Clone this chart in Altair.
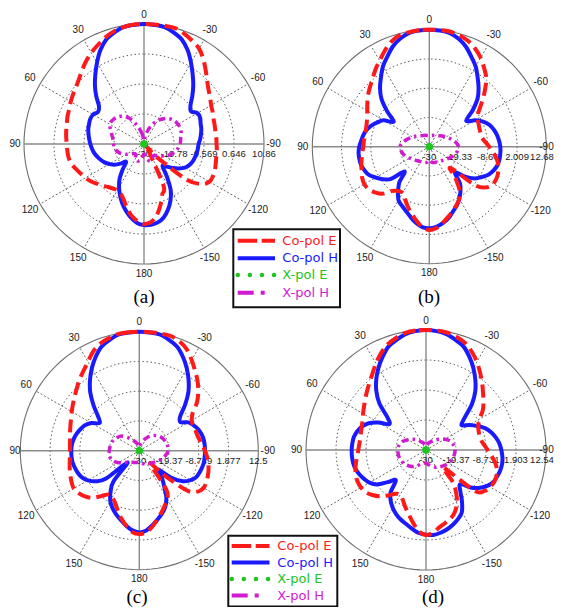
import altair as alt
import pandas as pd

SERIES = ["Co-pol E", "Co-pol H", "X-pol E", "X-pol H"]
COLORS = ["#ff1a1a", "#1a1aff", "#22c422", "#d21ad2"]

# angles in degrees, counter-clockwise from the top (185 = -175, ..., 355 = -5)
ANG5 = list(range(0, 360, 5))
ANG10 = list(range(0, 360, 10))
ANG30 = list(range(0, 360, 30))
ANGLE_TEXT = ["0", "30", "60", "90", "120", "150", "180", "-150", "-120", "-90", "-60", "-30"]

# ---------------- panel (a)
A_TICKS = [-30, -19.78, -9.569, 0.646, 10.86]
A_TICK_TEXT = ["-30", "-19.78", "-9.569", "0.646", "10.86"]
A_COPOL_E = [10.86, 10.86, 10.4, 9.7, 8.6, 7.2, 5.9, 4.4, 2.8, 1.3, 0.2, -0.5, -1.2, -1.9, -2.3, -2.8,
             -3.1, -3.4, -3.7, -3.8, -3.9, -4.3, -5.3, -6.2, -7.0, -7.9, -9.0, -10.0, -10.9, -11.5,
             -11.8, -11.3, -9.8, -7.5, -5.3, -3.7, -2.8,
             -3.3, -5.3, -8.4, -11.8, -14.1, -25.5, -28.3, -30.0, -23.2, -11.3, -6.2, -4.3, -4.1,
             -4.3, -4.7, -5.0, -5.1, -5.3, -5.3, -5.3, -5.1, -4.8, -4.2, -3.6, -2.5, -1.3, 0.4, 2.7,
             5.2, 7.5, 8.8, 10.0, 10.86, 10.86, 10.86]
A_COPOL_H = [10.86, 10.7, 10.4, 9.3, 7.8, 5.2, 2.0, -1.1, -4.0, -7.0, -10.0, -10.9, -10.0, -9.8, -10.1,
             -10.36, -10.82, -11.27, -11.73, -12.18, -12.75, -13.5, -14.3, -15.2, -16.4, -17.7, -19.6,
             -21.4, -18.7, -15.5, -13.0, -10.7, -8.4, -6.4, -4.5, -3.0, -2.4,
             -2.4, -2.9, -4.1, -6.2, -8.7, -11.8, -16.4, -20.2, -19.1, -17.3, -15.5, -13.9, -13.0,
             -12.4, -12.1, -11.8, -11.6, -11.4, -10.8, -10.3, -9.8, -9.5, -8.9, -9.0, -10.5, -9.3,
             -6.7, -3.9, -1.1, 2.0, 5.2, 7.8, 9.3, 10.4, 10.7]
A_XPOL_E = [-30.0, -30.0, -30.0, -30.0, -30.0, -30.0, -30.0, -30.0, -30.0, -30.0, -30.0, -30.0]
A_XPOL_H = [-28.9, -26.6, -23.4, -19.8, -17.7, -16.7, -16.6, -18.1, -19.2, -19.6, -20.0, -21.1,
            -23.0, -24.9, -25.5, -24.3, -23.8, -24.9, -26.6, -24.9, -23.8, -24.3, -24.9, -23.8,
            -21.8, -20.0, -18.65, -17.7, -17.3, -16.6, -16.6, -17.2, -18.65, -20.9, -23.8, -26.8]

# ---------------- panel (b)
B_TICKS = [-30, -19.33, -8.66, 2.009, 12.68]
B_TICK_TEXT = ["-30", "-19.33", "-8.66", "2.009", "12.68"]
B_COPOL_E = [12.68, 12.68, 12.44, 12.07, 10.74, 8.55, 6.24, 4.29, 2.22, 0.64, -0.82, -2.40, -3.86,
             -4.95, -5.68, -6.04, -6.17, -6.04, -5.92, -5.44, -4.95, -4.34, -3.73, -3.00, -2.64,
             -3.00, -4.10, -5.68, -8.96, -10.30, -10.54, -8.96, -6.90, -4.83, -2.64, -0.57, 0.40,
             -0.21, -1.79, -3.49, -5.07, -6.53, -8.11, -10.79, -15.41, -19.06, -8.11, -4.22, -3.00,
             -2.88, -3.25, -3.98, -5.07, -6.65, -8.11, -9.57, -10.54, -10.67, -10.54, -10.18, -9.57,
             -8.11, -5.07, -1.42, 2.35, 4.90, 7.45, 9.52, 11.10, 12.07, 12.68, 12.68]
B_COPOL_H = [12.68, 12.56, 12.19, 10.86, 8.91, 6.24, 3.80, 0.76, -2.03, -5.32, -9.94, -14.19, -10.79,
             -9.08, -7.50, -6.29, -5.56, -5.07, -4.46, -4.10, -4.10, -4.22, -4.83, -5.68, -7.50,
             -9.33, -11.76, -17.23, -12.98, -10.18, -7.50, -6.29, -5.07, -3.49, -1.79, -0.57, -0.21,
             -0.69, -1.67, -3.00, -4.83, -6.29, -8.11, -10.18, -12.61, -16.87, -12.98, -9.81, -7.87,
             -6.04, -4.95, -4.22, -3.98, -3.98, -4.10, -4.46, -4.95, -5.68, -6.65, -8.35, -10.79,
             -13.58, -9.33, -5.07, -2.03, 0.76, 3.80, 6.24, 8.91, 10.86, 12.19, 12.56]
B_XPOL_E = [-30.0, -30.0, -30.0, -30.0, -30.0, -30.0, -30.0, -30.0, -30.0, -30.0, -30.0, -30.0]
B_XPOL_H = [-26.0, -25.9, -25.6, -25.3, -24.8, -23.9, -23.0, -21.7, -20.3, -19.3, -19.7, -20.5,
            -21.7, -22.7, -23.3, -23.7, -23.9, -24.2, -25.1, -24.2, -23.9, -23.7, -23.3, -22.7,
            -21.7, -20.5, -19.7, -19.3, -20.3, -21.7, -23.0, -23.9, -24.8, -25.3, -25.6, -25.9]

# ---------------- panel (c)
C_TICKS = [-30, -19.37, -8.749, 1.877, 12.5]
C_TICK_TEXT = ["-30", "-19.37", "-8.749", "1.877", "12.5"]
C_COPOL_E = [12.5, 12.5, 12.38, 11.67, 10.71, 9.05, 6.67, 4.76, 3.21, 1.55, 0.12, -1.07, -2.14,
             -3.10, -3.81, -4.40, -4.88, -5.12, -5.24, -5.12, -4.76, -4.29, -3.81, -3.33, -2.98,
             -3.57, -4.64, -6.19, -8.81, -10.95, -10.71, -9.52, -7.38, -5.00, -2.86, -0.83, -0.24,
             -0.83, -2.62, -4.76, -6.67, -8.45, -10.0, -13.33, -24.05, -18.10, -7.98, -4.52, -3.45,
             -3.57, -3.93, -4.40, -5.00, -5.71, -6.55, -7.38, -8.10, -8.57, -8.69, -8.81, -8.33,
             -6.79, -3.10, -0.24, 2.38, 4.76, 7.38, 10.0, 11.67, 12.5, 12.5, 12.5]
C_COPOL_H = [12.5, 12.38, 12.14, 10.95, 9.52, 6.91, 3.93, 0.71, -2.74, -6.79, -10.71, -12.74, -10.24,
             -8.57, -7.62, -6.79, -6.19, -5.83, -5.71, -5.71, -5.83, -6.19, -6.67, -7.38, -8.81,
             -10.95, -14.52, -24.05, -15.71, -12.14, -9.29, -7.38, -5.83, -4.40, -2.86, -1.43, -0.83,
             -1.43, -2.98, -4.64, -6.19, -7.98, -10.71, -14.52, -17.50, -20.48, -14.76, -10.95,
             -8.93, -7.62, -7.14, -6.79, -6.55, -6.55, -6.55, -6.55, -6.67, -7.02, -7.62, -8.57,
             -9.76, -12.14, -10.95, -6.90, -2.74, 0.71, 3.93, 6.91, 9.52, 10.95, 12.14, 12.38]
C_XPOL_E = [-30.0, -30.0, -30.0, -30.0, -30.0, -30.0, -30.0, -30.0, -30.0, -30.0, -30.0, -30.0]
C_XPOL_H = [-28.2, -27.86, -27.02, -25.83, -24.05, -21.9, -20.71, -19.88, -19.52, -19.29, -19.17,
            -19.76, -21.43, -23.45, -24.64, -25.24, -25.48, -25.71, -25.83, -25.48, -25.0, -24.64,
            -24.05, -23.45, -22.5, -21.43, -20.48, -19.64, -19.76, -20.12, -20.71, -21.67, -23.10,
            -24.64, -26.19, -27.62]

# ---------------- panel (d)
D_TICKS = [-30, -19.37, -8.731, 1.903, 12.54]
D_TICK_TEXT = ["-30", "-19.37", "-8.731", "1.903", "12.54"]
D_COPOL_E = [12.54, 12.54, 12.19, 11.12, 9.82, 7.81, 5.45, 3.09, 1.20, -0.46, -1.88, -3.18, -4.24,
             -5.18, -5.77, -6.13, -6.37, -6.25, -6.01, -5.54, -4.83, -4.12, -3.53, -3.29, -3.41,
             -3.88, -5.18, -6.84, -8.97, -11.09, -11.68, -10.50, -8.49, -6.37, -3.77, -1.05, 0.13,
             -0.69, -2.23, -3.29, -4.24, -5.77, -8.14, -11.33, -15.23, -21.14, -7.55, -4.71, -3.77,
             -3.29, -3.41, -4.0, -5.18, -6.72, -8.14, -9.32, -10.15, -10.38, -10.15, -9.56, -8.14,
             -5.42, -3.41, -1.40, 0.96, 3.44, 6.04, 8.41, 10.41, 11.6, 12.30, 12.54]
D_COPOL_H = [12.54, 12.30, 11.71, 10.41, 9.0, 6.40, 3.68, 0.72, -2.58, -6.60, -12.27, -14.05, -10.50,
             -7.55, -5.77, -4.71, -4.00, -3.77, -3.65, -3.65, -3.77, -4.12, -4.83, -5.77, -6.84,
             -8.73, -12.27, -14.87, -10.50, -8.14, -6.37, -4.95, -3.77, -2.82, -1.64, -0.46, 0.02,
             0.25, -0.22, -0.93, -1.88, -3.06, -4.59, -7.78, -11.09, -12.87, -9.32, -6.60, -4.71,
             -3.53, -3.06, -2.70, -2.58, -2.82, -3.29, -3.88, -4.83, -6.01, -7.55, -9.91, -12.27,
             -14.64, -12.04, -6.96, -2.82, 0.49, 3.56, 6.40, 9.0, 10.41, 11.71, 12.30]
D_XPOL_E = [-30.0, -30.0, -30.0, -30.0, -30.0, -30.0, -30.0, -30.0, -30.0, -30.0, -30.0, -30.0]
D_XPOL_H = [-28.23, -27.87, -27.40, -26.69, -25.51, -24.09, -22.67, -21.14, -20.31, -20.07, -20.07,
            -20.31, -20.78, -21.49, -22.32, -23.50, -24.68, -25.27, -25.27, -24.68, -23.86, -22.91,
            -22.20, -21.49, -20.78, -20.19, -19.84, -19.72, -20.07, -20.78, -22.32, -24.09, -25.51,
            -26.69, -27.40, -27.87]

W, H = 547, 599  # drawing area

# layout of the four panels inside the drawing area (centre, radius in px)
PANELS = [
    dict(cap="(a)", ticks=A_TICKS, tt=A_TICK_TEXT, e=A_COPOL_E, h=A_COPOL_H, xe=A_XPOL_E, xh=A_XPOL_H,
         cx=136, cy=136, R=120, capx=136, capy=294.5),
    dict(cap="(b)", ticks=B_TICKS, tt=B_TICK_TEXT, e=B_COPOL_E, h=B_COPOL_H, xe=B_XPOL_E, xh=B_XPOL_H,
         cx=421.3, cy=138.7, R=117, capx=421, capy=294.5),
    dict(cap="(c)", ticks=C_TICKS, tt=C_TICK_TEXT, e=C_COPOL_E, h=C_COPOL_H, xe=C_XPOL_E, xh=C_XPOL_H,
         cx=131.3, cy=442.7, R=119, capx=129, capy=594.5),
    dict(cap="(d)", ticks=D_TICKS, tt=D_TICK_TEXT, e=D_COPOL_E, h=D_COPOL_H, xe=D_XPOL_E, xh=D_XPOL_H,
         cx=418, cy=442, R=120, capx=425, capy=594.5),
]

LEGENDS = [
    dict(box=(225.3, 332, 221.3, 299.3), rows=[232.7, 250.3, 267.0, 284.7], sx=(229.7, 267), tx=274.3),
    dict(box=(220.3, 329.3, 527.7, 598.5), rows=[538.0, 554.5, 571.0, 587.5], sx=(223.7, 261.5), tx=269.3),
]

LABEL_FONT = "Liberation Sans"


def polar(chart, lo):
    return chart.transform_calculate(
        rr=f"max(datum.db - ({lo}), 0)"
    ).transform_calculate(
        px="-datum.rr * sin(datum.ang * PI / 180)",
        py="datum.rr * cos(datum.ang * PI / 180)",
    )


def panel_layers(p):
    lo, hi = p["ticks"][0], p["ticks"][-1]
    S = hi - lo
    cx, cy, R = p["cx"], p["cy"], p["R"]
    k = S / R  # data units per pixel
    xs = alt.Scale(domain=[-S, S], range=[cx - R, cx + R], nice=False, zero=False)
    ys = alt.Scale(domain=[-S, S], range=[cy + R, cy - R], nice=False, zero=False)

    def X(f):
        return alt.X(f, type="quantitative", scale=xs, axis=None)

    def Y(f):
        return alt.Y(f, type="quantitative", scale=ys, axis=None)

    layers = []
    # grid rings
    inner = pd.DataFrame([(lv, a) for lv in p["ticks"][1:-1] for a in range(0, 360, 3)],
                         columns=["db", "ang"])
    outer = pd.DataFrame([(hi, a) for a in range(0, 360, 3)], columns=["db", "ang"])
    layers.append(polar(alt.Chart(inner), lo).mark_line(
        interpolate="linear-closed", stroke="#333333", strokeWidth=0.8, strokeDash=[1.5, 2.5]
    ).encode(x=X("px"), y=Y("py"), detail="db:N", order="ang:Q"))
    layers.append(polar(alt.Chart(outer), lo).mark_line(
        interpolate="linear-closed", stroke="#6e6e6e", strokeWidth=1.1
    ).encode(x=X("px"), y=Y("py"), order="ang:Q"))
    # spokes
    spokes = pd.DataFrame({"ang": [30, 60, 120, 150, 210, 240, 300, 330]})
    layers.append(alt.Chart(spokes).transform_calculate(
        z="0", ex=f"-{S} * sin(datum.ang * PI / 180)", ey=f"{S} * cos(datum.ang * PI / 180)"
    ).mark_rule(stroke="#444444", strokeWidth=0.8, strokeDash=[2, 2]).encode(
        x=X("z"), y=Y("z"), x2="ex:Q", y2="ey:Q"))
    axes = pd.DataFrame({"ang": [0, 90]})
    layers.append(alt.Chart(axes).transform_calculate(
        sx=f"{S} * sin(datum.ang * PI / 180)", sy=f"-{S} * cos(datum.ang * PI / 180)",
        ex=f"-{S} * sin(datum.ang * PI / 180)", ey=f"{S} * cos(datum.ang * PI / 180)"
    ).mark_rule(stroke="#8a8a8a", strokeWidth=1.4).encode(
        x=X("sx"), y=Y("sy"), x2="ex:Q", y2="ey:Q"))
    # angle labels (kept inside the drawing area)
    xmin, xmax = (7 - cx) * k, (W - 8.5 - cx) * k
    ang_df = pd.DataFrame({"ang": ANG30, "t": ANGLE_TEXT})
    layers.append(alt.Chart(ang_df).transform_calculate(
        lr=f"({R} + 9.5 + 2.5 * abs(sin(datum.ang * PI / 90))) * {k}"
    ).transform_calculate(
        lx=f"clamp(-datum.lr * sin(datum.ang * PI / 180), {xmin}, {xmax})",
        ly="datum.lr * cos(datum.ang * PI / 180)",
    ).mark_text(font=LABEL_FONT, fontSize=10, color="#1a1a1a").encode(
        x=X("lx"), y=Y("ly"), text="t:N"))
    # radial tick labels
    tmax = (W - 13 - cx) * k
    tick_df = pd.DataFrame({"db": p["ticks"], "t": p["tt"]})
    layers.append(alt.Chart(tick_df).transform_calculate(
        lx=f"min(datum.db - ({lo}), {tmax})", ly="0"
    ).mark_text(font=LABEL_FONT, fontSize=9.5, color="#1a1a1a", dy=10).encode(
        x=X("lx"), y=Y("ly"), text="t:N"))
    # curves
    h_df = pd.DataFrame({"ang": ANG5, "db": p["h"]})
    layers.append(polar(alt.Chart(h_df), lo).mark_line(
        interpolate="cardinal-closed", stroke=COLORS[1], strokeWidth=4
    ).encode(x=X("px"), y=Y("py"), order="ang:Q"))
    e_df = pd.DataFrame({"ang": ANG5, "db": p["e"]})
    layers.append(polar(alt.Chart(e_df), lo).mark_line(
        interpolate="cardinal-closed", stroke=COLORS[0], strokeWidth=4, strokeDash=[13, 6]
    ).encode(x=X("px"), y=Y("py"), order="ang:Q"))
    xh_df = pd.DataFrame({"ang": ANG10, "db": p["xh"]})
    layers.append(polar(alt.Chart(xh_df), lo).mark_line(
        interpolate="cardinal-closed", stroke=COLORS[3], strokeWidth=3.5, strokeDash=[7, 4, 2.5, 4]
    ).encode(x=X("px"), y=Y("py"), order="ang:Q"))
    xe_df = pd.DataFrame({"ang": ANG30, "db": p["xe"]})
    layers.append(polar(alt.Chart(xe_df), lo).mark_circle(
        size=42, color=COLORS[2], opacity=1
    ).encode(x=X("px"), y=Y("py")))
    # caption
    layers.append(alt.Chart(pd.DataFrame({"t": [p["cap"]]})).mark_text(
        font="Liberation Serif", fontSize=19, color="#000000", baseline="alphabetic"
    ).encode(x=alt.value(p["capx"]), y=alt.value(p["capy"]), text="t:N"))
    return layers


def legend_layers(lg):
    x0, x1, y0, y1 = lg["box"]
    one = pd.DataFrame({"k": [0]})
    layers = [alt.Chart(one).mark_rect(fill="white", stroke="#111111", strokeWidth=2).encode(
        x=alt.value(x0), x2=alt.value(x1), y=alt.value(y0), y2=alt.value(y1))]
    styles = [
        dict(strokeDash=[19.5, 4.5], strokeWidth=4),
        dict(strokeWidth=4),
        dict(strokeDash=[0.1, 12], strokeWidth=4.5, strokeCap="round"),
        dict(strokeDash=[16, 7, 4, 40], strokeWidth=4),
    ]
    for name, col, st, ry in zip(SERIES, COLORS, styles, lg["rows"]):
        layers.append(alt.Chart(one).mark_rule(color=col, **st).encode(
            x=alt.value(lg["sx"][0]), x2=alt.value(lg["sx"][1]), y=alt.value(ry)))
        layers.append(alt.Chart(pd.DataFrame({"t": [name]})).mark_text(
            font="DejaVu Sans", fontSize=13, color=col, align="left", baseline="middle"
        ).encode(x=alt.value(lg["tx"]), y=alt.value(ry), text="t:N"))
    return layers


all_layers = []
for p in PANELS:
    all_layers += panel_layers(p)
for lg in LEGENDS:
    all_layers += legend_layers(lg)

chart = alt.layer(*all_layers).resolve_scale(
    x="independent", y="independent"
).properties(
    width=W, height=H,
    padding=0,
    autosize=alt.AutoSizeParams(type="none"),
    background="white",
).configure_view(stroke=None)

chart.save("out.html", embed_options={"renderer": "svg", "actions": False})
